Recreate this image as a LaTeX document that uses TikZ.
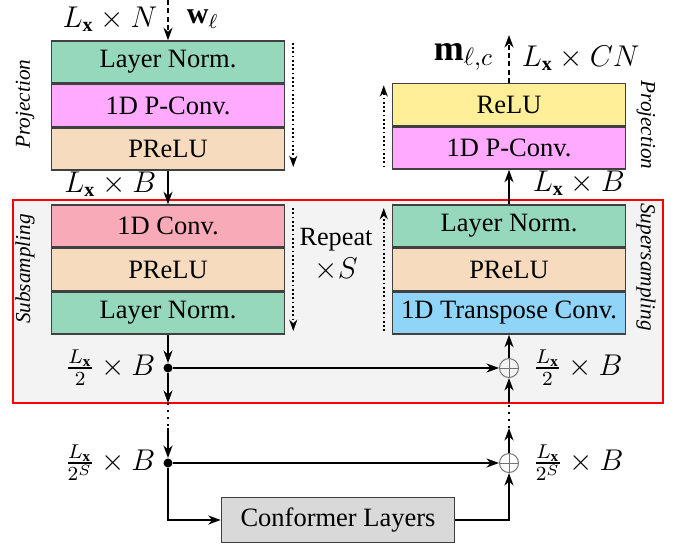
\documentclass[tikz,border=0pt]{standalone}
\usepackage{amsmath,amssymb}
\usepackage{bm}
\usepackage{fontspec}
\setmainfont{Liberation Serif}
\usetikzlibrary{arrows.meta,positioning}
\definecolor{lnormgreen}{RGB}{149,216,187}
\definecolor{pconvpink}{RGB}{255,170,255}
\definecolor{preluorange}{RGB}{246,219,191}
\definecolor{convrose}{RGB}{248,170,184}
\definecolor{reluyellow}{RGB}{255,239,153}
\definecolor{tconvblue}{RGB}{144,213,247}
\definecolor{confgray}{RGB}{217,217,217}
\definecolor{framegray}{RGB}{243,243,243}
\newcommand{\Lx}{L_{\mathbf{x}}}

\begin{document}
\begin{tikzpicture}[x=0.4pt,y=-0.4pt,
    layer/.style={draw=black!75, line width=0.6pt, minimum width=93.2pt,
      minimum height=16.8pt, inner sep=0pt, font=\fontsize{10.6}{12}\selectfont},
    flow/.style={line width=0.8pt, -{Stealth[length=5pt,width=3.6pt,inset=1.6pt]}},
    io/.style={flow, dash pattern=on 2pt off 1.3pt},
    link/.style={line width=0.8pt, dotted},
    rep/.style={line width=0.7pt, densely dotted, -{Stealth[length=4.5pt,width=3.2pt,inset=1.4pt]}},
    dim/.style={font=\large},
    side/.style={font=\fontsize{8.5}{10}\selectfont\itshape},
    split/.style={circle, fill, inner sep=0pt, minimum size=3.6pt},
    addop/.style={circle, draw=black!55, line width=0.4pt, inner sep=0pt, minimum size=7.6pt,
      path picture={\draw[black!55, line width=0.3pt]
        (path picture bounding box.north) -- (path picture bounding box.south)
        (path picture bounding box.west) -- (path picture bounding box.east);}}]
  \useasboundingbox (0,0) rectangle (677,548);
  % repeated part
  \draw[red, line width=0.8pt, fill=framegray] (13,200) rectangle (663,403);

  % Projection (in)
  \node[layer, fill=lnormgreen] (pnorm) at (168,62) {Layer Norm.};
  \node[layer, fill=pconvpink, below=0pt of pnorm] (pconv) {1D P-Conv.};
  \node[layer, fill=preluorange, below=0pt of pconv] (pprelu) {PReLU};
  % Subsampling
  \node[layer, fill=convrose] (sconv) at (168,226) {1D Conv.};
  \node[layer, fill=preluorange, below=0pt of sconv] (sprelu) {PReLU};
  \node[layer, fill=lnormgreen, below=0pt of sprelu] (snorm) {Layer Norm.};
  % Projection (out)
  \node[layer, fill=reluyellow] (orelu) at (509,104.5) {ReLU};
  \node[layer, fill=pconvpink, below=0pt of orelu] (opconv) {1D P-Conv.};
  % Supersampling
  \node[layer, fill=lnormgreen] (unorm) at (509,226) {Layer Norm.};
  \node[layer, fill=preluorange, below=0pt of unorm] (uprelu) {PReLU};
  \node[layer, fill=tconvblue, below=0pt of uprelu] (utconv) {1D Transpose Conv.};
  % Bottleneck
  \node[layer, fill=confgray, minimum height=18pt] (conf) at (338,520) {Conformer Layers};

  \node[split] (dsub) at (168,368) {};
  \node[split] (dbot) at (168,463) {};
  \node[addop] (asup) at (509,368) {};
  \node[addop] (abot) at (509,463) {};

  \coordinate (win) at (168,0);
  \coordinate (mout) at (509,35);
  \coordinate (lexit) at (168,403);
  \coordinate (lentry) at (168,428);
  \coordinate (rentry) at (509,428);
  \coordinate (rexit) at (509,403);

  % side labels
  \node[side, rotate=90] (tproj) at (25,104) {Projection};
  \node[side, rotate=90] (tsub) at (25,269) {Subsampling};
  \node[side, rotate=-90] (tprojo) at (646,125) {Projection};
  \node[side, rotate=-90] (tsup) at (646,267) {Supersampling};
  \node[inner sep=0pt, font=\fontsize{10.5}{12}\selectfont] (trep) at (336,240) {Repeat};
  \node[dim, inner sep=0pt] (trepS) at (336,269) {$\times S$};

  % tensor shapes
  \node[dim, anchor=east] (sin) at (166,19) {$\Lx\times N$};
  \node[dim, anchor=west] (wl) at (178,19) {$\mathbf{w}_{\ell}$};
  \node[dim, anchor=east] (sb) at (165,184) {$\Lx\times B$};
  \node[dim, anchor=east] (shalf) at (164,368) {$\frac{\Lx}{2}\times B$};
  \node[dim, anchor=east] (sbot) at (164,463) {$\frac{\Lx}{2^S}\times B$};
  \node[dim, anchor=west] (rhalf) at (524,368) {$\frac{\Lx}{2}\times B$};
  \node[dim, anchor=west] (rb) at (524,183) {$\Lx\times B$};
  \node[dim, anchor=west] (rbot) at (524,463) {$\frac{\Lx}{2^S}\times B$};
  \node[dim, font=\Large, anchor=east] (mlc) at (502,57) {$\mathbf{m}_{\ell,c}$};
  \node[dim, anchor=west] (sout) at (513,58) {$\Lx\times CN$};

  % data flow
  \draw[io] (win) -- (pnorm);
  \draw[flow] (pprelu) -- (sconv);
  \draw[flow] (snorm) -- (dsub);
  \draw[flow] (dsub) -- (lexit);
  \draw[link] (lexit) -- (lentry);
  \draw[flow] (lentry) -- (dbot);
  \draw[flow] (dbot) |- (conf);
  \draw[flow] (conf) -| (abot);
  \draw[flow] (dbot) -- (abot);
  \draw[flow] (abot) -- (rentry);
  \draw[link] (rentry) -- (rexit);
  \draw[flow] (rexit) -- (asup);
  \draw[flow] (dsub) -- (asup);
  \draw[flow] (asup) -- (utconv);
  \draw[flow] (unorm) -- (opconv);
  \draw[io] (orelu) -- (mout);

  % order of the layers
  \draw[rep] ([xshift=3.2pt,yshift=-1pt]pnorm.north east) -- ([xshift=3.2pt,yshift=1.5pt]pprelu.south east);
  \draw[rep] ([xshift=3.2pt,yshift=-1.5pt]sconv.north east) -- ([xshift=3.2pt,yshift=1.5pt]snorm.south east);
  \draw[rep] ([xshift=-3.2pt,yshift=1pt]opconv.south west) -- ([xshift=-3.2pt,yshift=-1pt]orelu.north west);
  \draw[rep] ([xshift=-3.2pt,yshift=1.5pt]utconv.south west) -- ([xshift=-3.2pt,yshift=-1.5pt]unorm.north west);
\end{tikzpicture}
\end{document}
